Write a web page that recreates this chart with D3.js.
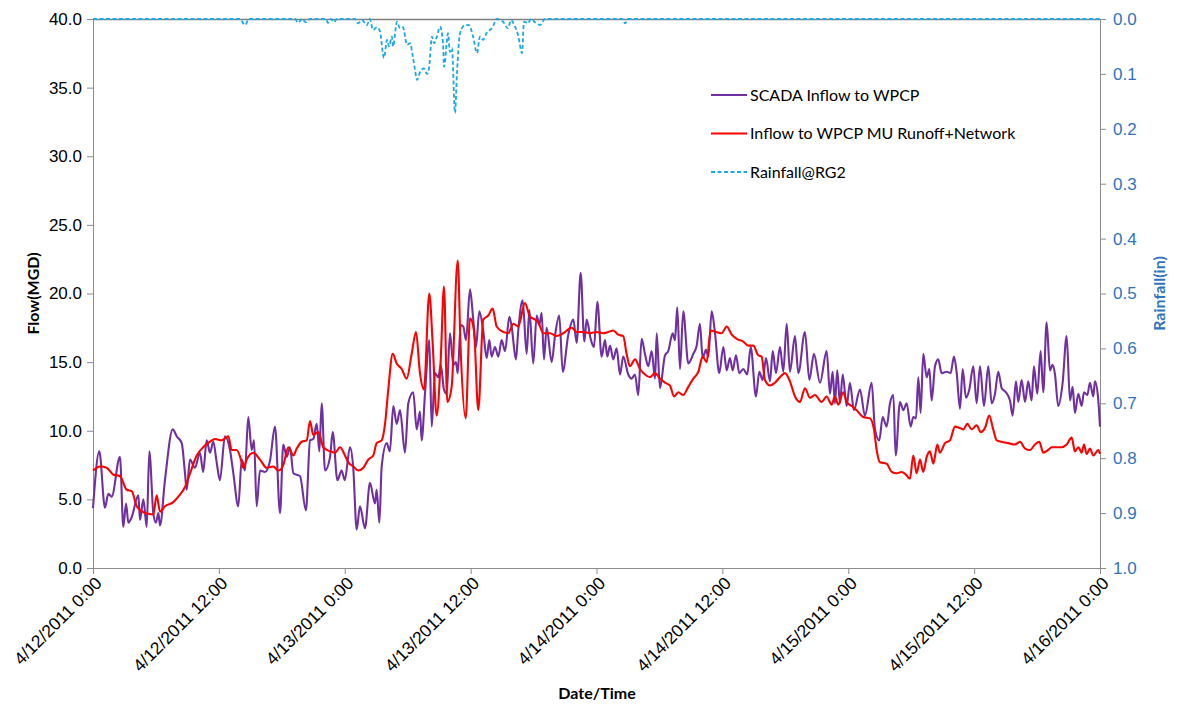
<!DOCTYPE html>
<html>
<head>
<meta charset="utf-8">
<script src="https://cdn.jsdelivr.net/npm/d3@7"></script>
<style>
  body { margin: 0; background: #fff; }
  svg { display: block; font-family: Lato, "Open Sans", sans-serif; }
  .axis path, .axis line { stroke: #8c8c8c; }
</style>
</head>
<body>
<svg id="chart" width="1177" height="707"></svg>
<script>
// hours after 4/12/2011 0:00, flow in MGD
var scadaInflow = [
  [0,4.35],[0.6,8.5],[1.14,4.4],[1.46,5.4],[1.78,5.2],[2.57,8.1],[2.89,3.0],[3.15,4.7],[3.37,3.3],[3.69,3.7],
  [4.32,5.3],[4.48,3.5],[4.8,5.0],[5.12,3.0],[5.37,8.5],[5.75,4.0],[6.0,3.3],[6.23,4.0],[6.39,3.1],[6.86,6.4],
  [7.6,10.1],[7.98,9.6],[8.46,9.1],[8.77,6.9],[8.93,5.7],[9.25,7.9],[9.72,7.3],[10.2,8.4],[10.5,7.0],[10.84,9.3],
  [11.15,8.4],[11.47,9.2],[11.79,7.7],[12.1,6.4],[12.58,9.6],[13.06,8.6],[13.38,6.9],[13.85,4.5],[14.18,7.9],[14.49,7.1],
  [14.8,11.0],[15.13,8.6],[15.35,9.3],[15.6,4.5],[15.92,7.1],[16.4,7.0],[16.87,7.8],[17.35,10.3],[17.83,4.0],[18.14,9.0],
  [18.47,8.1],[18.78,8.8],[19.1,6.9],[19.73,6.7],[20.3,4.2],[20.69,9.3],[21.0,9.4],[21.33,10.5],[21.58,8.5],[21.8,12.0],
  [22.12,7.1],[22.6,8.1],[22.85,9.9],[23.3,6.4],[23.7,7.1],[24.0,6.4],[24.5,8.8],[24.8,7.4],[25.14,2.8],[25.45,4.5],
  [25.93,2.9],[26.4,6.2],[26.88,4.7],[27.04,5.7],[27.3,3.3],[27.52,7.4],[28.0,9.1],[28.3,8.5],[28.63,11.8],[28.95,10.5],
  [29.27,11.5],[29.74,8.4],[30.06,12.0],[30.53,12.8],[30.86,10.1],[31.17,11.4],[31.33,9.3],[31.65,12.7],[32.06,16.6],[32.29,10.3],
  [32.6,14.2],[32.92,13.9],[33.15,14.8],[33.46,13.0],[33.72,12.7],[34.03,17.1],[34.35,14.8],[34.6,15.0],[34.77,14.2],[35.05,17.7],
  [35.3,17.6],[35.56,16.6],[35.94,20.3],[36.25,18.1],[36.51,16.1],[36.83,18.7],[37.2,17.3],[37.53,15.3],[37.78,16.6],[38.0,15.4],
  [38.32,16.1],[38.64,15.4],[38.96,16.6],[39.28,15.8],[39.69,18.3],[39.91,17.6],[40.32,15.2],[40.54,17.3],[40.96,19.5],[41.34,15.6],
  [41.6,18.8],[41.97,14.9],[42.3,18.4],[42.55,17.7],[42.77,18.6],[42.99,15.2],[43.25,17.5],[43.73,15.0],[44.04,16.9],[44.45,18.4],
  [44.78,14.3],[45.31,17.0],[45.79,18.1],[46.11,16.4],[46.49,21.5],[46.84,16.5],[47.06,18.1],[47.44,16.7],[47.76,16.1],[48.08,19.4],
  [48.49,15.4],[48.81,16.6],[49.03,15.4],[49.29,16.2],[49.6,15.2],[49.92,16.0],[50.24,14.1],[50.55,15.4],[51.03,14.1],[51.35,13.8],
  [51.67,14.1],[51.98,12.6],[52.3,16.7],[52.62,15.6],[52.94,14.7],[53.26,15.8],[53.58,13.8],[53.74,17.1],[54.05,13.1],[54.53,15.5],
  [54.84,15.8],[55.26,17.1],[55.48,16.6],[55.7,19.0],[55.96,14.5],[56.27,18.7],[56.75,14.9],[57.23,15.6],[57.55,16.2],[57.86,17.8],
  [58.12,15.3],[58.44,15.9],[58.66,15.4],[58.98,18.7],[59.3,17.1],[59.7,14.2],[60.09,16.1],[60.41,14.4],[60.72,15.3],[60.98,14.4],
  [61.3,15.5],[61.61,14.2],[61.99,14.5],[62.37,14.1],[62.7,16.1],[63.2,12.5],[63.52,14.3],[63.84,13.7],[64.16,15.3],[64.54,13.6],
  [64.8,15.8],[65.11,14.2],[65.49,16.1],[65.81,14.3],[66.13,17.8],[66.44,14.3],[66.92,16.9],[67.24,14.2],[67.87,17.2],[68.29,13.7],
  [68.73,15.6],[69.31,13.5],[69.94,15.8],[70.26,12.7],[70.51,14.3],[70.73,12.0],[70.95,14.4],[71.21,12.0],[71.47,14.1],[71.85,11.8],
  [72.16,13.5],[72.54,11.5],[73.12,13.0],[73.59,11.1],[74.23,13.5],[74.55,10.1],[74.96,9.3],[75.28,11.0],[75.66,10.3],[75.98,12.0],
  [76.3,12.6],[76.52,8.2],[76.93,12.1],[77.25,11.5],[77.57,12.0],[77.95,10.3],[78.2,11.0],[78.46,10.9],[78.68,13.9],[78.9,11.3],
  [79.15,15.6],[79.48,13.9],[79.73,14.5],[79.95,12.2],[80.27,14.7],[80.58,15.2],[80.9,14.2],[81.38,14.3],[81.76,14.2],[82.08,15.4],
  [82.34,14.2],[82.65,11.6],[82.91,14.5],[83.22,12.4],[83.54,13.0],[83.92,14.7],[84.24,12.0],[84.56,14.7],[84.94,11.8],[85.35,14.7],
  [85.67,12.0],[85.99,12.7],[86.3,14.3],[86.63,13.1],[87.04,12.8],[87.42,12.2],[87.67,11.1],[87.99,13.6],[88.21,12.1],[88.53,13.7],
  [88.85,12.1],[89.16,13.6],[89.48,12.2],[89.7,14.7],[90.02,12.7],[90.34,15.8],[90.59,12.8],[90.91,17.9],[91.23,14.4],[91.48,14.8],
  [91.71,14.1],[92.02,11.8],[92.44,13.5],[92.82,16.9],[93.14,12.2],[93.39,13.2],[93.61,11.3],[93.93,12.7],[94.25,11.8],[94.47,12.8],
  [94.79,12.6],[95.04,13.5],[95.36,12.5],[95.52,13.6],[95.84,12.2],[96.0,10.3]
];

var modelInflow = [
  [0,7.1],[0.67,7.4],[1.3,7.3],[1.94,6.8],[2.57,6.7],[3.21,5.7],[3.69,5.6],[4.17,4.5],[4.96,4.0],[5.75,3.9],
  [6.07,5.3],[6.39,4.1],[6.86,4.5],[7.66,4.8],[8.13,5.2],[8.77,5.9],[9.25,6.9],[9.89,8.2],[10.51,8.8],[11.15,9.2],
  [11.63,9.4],[12.27,9.3],[12.9,9.6],[13.22,8.6],[13.7,8.6],[14.18,7.7],[14.33,7.3],[14.65,7.9],[15.28,8.4],[15.92,7.9],
  [16.56,7.3],[17.19,7.4],[17.67,7.1],[18.14,7.5],[18.62,8.8],[19.1,8.2],[19.42,8.7],[19.9,9.2],[20.37,9.3],[20.69,10.7],
  [21.0,9.7],[21.48,9.9],[21.95,8.8],[22.59,8.5],[23.07,8.4],[23.55,8.8],[24.02,8.2],[24.34,7.7],[24.82,7.4],[25.29,7.1],
  [25.77,7.3],[26.24,7.9],[26.72,8.2],[27.04,9.1],[27.52,9.3],[27.84,10.5],[28.15,13.0],[28.57,15.6],[28.95,14.9],[29.43,14.5],
  [29.9,13.8],[30.38,15.6],[30.79,17.2],[31.17,14.2],[31.55,13.0],[32.06,20.0],[32.38,16.4],[32.76,11.1],[33.15,15.2],[33.46,20.5],
  [33.78,12.1],[34.19,13.2],[34.77,22.4],[35.05,15.9],[35.53,10.9],[35.94,18.2],[36.32,17.3],[36.73,11.5],[37.2,18.1],[37.68,18.4],
  [38.1,18.9],[38.48,17.6],[39.11,17.2],[39.59,17.1],[40.07,17.8],[40.54,17.6],[41.18,19.3],[41.66,18.3],[42.14,18.1],[42.45,17.9],
  [42.93,17.1],[43.57,17.1],[44.2,16.9],[44.83,17.1],[45.63,17.5],[46.11,17.2],[46.74,17.2],[47.38,17.1],[48.02,17.2],[48.65,17.1],
  [49.12,17.2],[49.6,17.3],[50.08,17.0],[50.55,16.9],[50.87,15.6],[51.19,14.7],[51.67,15.2],[52.15,14.5],[52.62,14.1],[53.1,13.9],
  [53.58,14.2],[54.05,13.8],[54.53,13.5],[55.0,13.3],[55.39,12.5],[55.8,12.8],[56.27,12.6],[56.75,13.2],[57.23,13.8],[57.71,14.3],
  [58.12,15.4],[58.5,15.0],[58.88,17.3],[59.39,17.2],[59.93,17.1],[60.41,17.6],[60.89,17.0],[61.36,16.7],[61.99,16.5],[62.47,16.2],
  [62.95,16.2],[63.42,15.5],[63.74,15.4],[64.06,13.7],[64.54,13.3],[65.01,13.5],[65.49,13.9],[65.97,14.2],[66.44,13.6],[66.92,12.5],
  [67.4,12.1],[67.87,13.1],[68.35,12.4],[68.83,12.6],[69.46,12.1],[69.94,12.5],[70.42,11.9],[70.73,12.5],[71.05,11.9],[71.53,12.8],
  [71.85,12.1],[72.33,11.8],[72.8,11.5],[73.43,11.0],[74.07,10.9],[74.45,10.1],[74.71,8.6],[75.02,7.7],[75.66,7.6],[76.14,7.0],
  [76.62,6.9],[77.09,7.0],[77.5,6.8],[77.88,6.5],[78.2,8.2],[78.52,6.9],[78.84,7.9],[79.15,7.0],[79.48,8.1],[79.79,8.5],
  [80.11,7.6],[80.49,9.0],[80.74,8.4],[81.22,9.1],[81.7,9.3],[82.17,10.3],[82.65,10.2],[82.97,10.1],[83.35,10.5],[83.76,10.1],
  [84.24,10.4],[84.62,9.9],[85.03,10.2],[85.44,11.1],[85.82,10.1],[86.15,9.3],[86.63,9.2],[87.26,9.1],[87.89,9.0],[88.37,9.2],
  [88.85,8.7],[89.32,8.6],[89.8,9.0],[90.21,9.2],[90.59,8.4],[91.07,8.6],[91.39,8.8],[91.87,8.8],[92.34,8.8],[92.82,9.0],
  [93.3,9.5],[93.61,8.5],[93.93,8.8],[94.25,8.4],[94.47,9.0],[94.73,8.3],[95.04,8.7],[95.36,8.2],[95.84,8.6],[96.0,8.3]
];

// hours, inches
var rainfallRG2 = [
  [0,0],[14.0,0],[14.49,0.011],[14.87,0],[19.26,0],[19.54,0.007],[19.92,0],[20.3,0.006],[20.69,0],
  [22.2,0],[22.4,0.007],[22.69,0],[22.97,0.006],[23.26,0],[24.98,0],[25.26,0.008],[25.64,0.002],[26.12,0.011],
  [26.4,0],[26.69,0.02],[27.07,0.015],[27.36,0.023],[27.74,0.071],[28.03,0.038],[28.22,0.05],[28.5,0.032],
  [28.6,0.05],[28.98,0.005],[29.27,0.017],[29.55,0.015],[29.93,0.047],[30.22,0.044],[30.51,0.071],[30.7,0.093],
  [30.89,0.111],[31.17,0.097],[31.55,0.09],[31.84,0.1],[32.03,0.09],[32.32,0.032],[32.51,0.044],[32.79,0.032],
  [33.08,0.014],[33.37,0.044],[33.46,0.087],[33.75,0.038],[33.84,0.026],[34.03,0.06],[34.22,0.053],[34.51,0.171],
  [34.7,0.098],[34.99,0.026],[35.46,0.011],[35.84,0.011],[36.23,0.032],[36.61,0.062],[36.89,0.032],[37.18,0.038],
  [37.56,0.024],[38.04,0.017],[38.51,0],[39.09,0.005],[39.56,0.017],[39.85,0.002],[40.23,0.014],[40.52,0.029],
  [40.9,0.062],[41.09,0.005],[41.47,0.008],[41.75,0],[42.14,0.006],[42.61,0.011],[43.09,0],[50.43,0],[50.72,0.008],
  [51.0,0],[96,0]
];

var flowTicks = [0, 5, 10, 15, 20, 25, 30, 35, 40];
var rainTicks = [0, 0.1, 0.2, 0.3, 0.4, 0.5, 0.6, 0.7, 0.8, 0.9, 1.0];
var seriesNames = ["SCADA Inflow to WPCP", "Inflow to WPCP MU Runoff+Network", "Rainfall@RG2"];
var seriesColors = ["#7030a0", "#ff0000", "#1aa9e2"];

var start = new Date(2011, 3, 12, 0, 0);
var end = new Date(2011, 3, 16, 0, 0);
function toDate(h) { return new Date(start.getTime() + h * 3600000); }

var svg = d3.select("#chart");
var margin = {top: 19, right: 77, bottom: 139, left: 93};
var width = 1177 - margin.left - margin.right,
    height = 707 - margin.top - margin.bottom;

var x = d3.scaleTime().domain([start, end]).range([margin.left, margin.left + width]);
var yFlow = d3.scaleLinear().domain([0, 40]).range([margin.top + height, margin.top]);
var yRain = d3.scaleLinear().domain([0, 1]).range([margin.top, margin.top + height]);

// top border of plot area
svg.append("line")
    .attr("x1", margin.left).attr("x2", margin.left + width)
    .attr("y1", margin.top + 0.5).attr("y2", margin.top + 0.5)
    .attr("stroke", "#7f7f7f").attr("stroke-width", 1.5);

var leftAxis = svg.append("g")
    .attr("class", "axis")
    .attr("transform", "translate(" + margin.left + ",0)")
    .call(d3.axisLeft(yFlow).tickValues(flowTicks).tickFormat(d3.format(".1f")).tickSize(6).tickSizeOuter(0));
leftAxis.selectAll("text").style("font-size", "17px").attr("fill", "#000").attr("x", -11);

var rightAxis = svg.append("g")
    .attr("class", "axis")
    .attr("transform", "translate(" + (margin.left + width) + ",0)")
    .call(d3.axisRight(yRain).tickValues(rainTicks).tickFormat(d3.format(".1f")).tickSize(6).tickSizeOuter(0));
rightAxis.selectAll("text").style("font-size", "17px").attr("fill", "#2e74c0").attr("x", 13);

var bottomAxis = svg.append("g")
    .attr("class", "axis")
    .attr("transform", "translate(0," + (margin.top + height) + ")")
    .call(d3.axisBottom(x).ticks(d3.timeHour.every(12)).tickFormat(d3.timeFormat("%-m/%-d/%Y %-H:%M")).tickSize(6).tickSizeOuter(0));
bottomAxis.selectAll("text")
    .style("font-size", "17.5px")
    .attr("fill", "#000")
    .style("text-anchor", "end")
    .attr("x", 0).attr("y", 0).attr("dy", "0.35em")
    .attr("transform", "translate(5,12) rotate(-45)");

// lines
var flowLine = d3.line()
    .curve(d3.curveMonotoneX)
    .x(function(d) { return x(toDate(d[0])); })
    .y(function(d) { return yFlow(d[1]); });
var rainLine = d3.line()
    .curve(d3.curveMonotoneX)
    .x(function(d) { return x(toDate(d[0])); })
    .y(function(d) { return yRain(d[1]); });

svg.append("path").datum(rainfallRG2)
    .attr("d", rainLine)
    .attr("fill", "none")
    .attr("stroke", seriesColors[2])
    .attr("stroke-width", 1.8)
    .attr("stroke-dasharray", "4,2.5");

svg.append("path").datum(scadaInflow)
    .attr("d", flowLine)
    .attr("fill", "none")
    .attr("stroke", seriesColors[0])
    .attr("stroke-width", 2.1)
    .attr("stroke-linejoin", "round");

svg.append("path").datum(modelInflow)
    .attr("d", flowLine)
    .attr("fill", "none")
    .attr("stroke", seriesColors[1])
    .attr("stroke-width", 2.1)
    .attr("stroke-linejoin", "round");

// axis titles
svg.append("text")
    .attr("transform", "translate(39," + (margin.top + height / 2) + ") rotate(-90)")
    .attr("text-anchor", "middle")
    .style("font-size", "16px").style("font-weight", "bold")
    .text("Flow(MGD)");

svg.append("text")
    .attr("transform", "translate(1165," + (margin.top + height / 2) + ") rotate(-90)")
    .attr("text-anchor", "middle")
    .attr("fill", "#2e74c0")
    .style("font-size", "16px").style("font-weight", "bold")
    .text("Rainfall(in)");

svg.append("text")
    .attr("x", 597).attr("y", 699)
    .attr("text-anchor", "middle")
    .style("font-size", "16px").style("font-weight", "bold")
    .text("Date/Time");

// legend
var legend = svg.selectAll(".legend")
    .data(seriesNames)
    .enter().append("g")
    .attr("class", "legend")
    .attr("transform", function(d, i) { return "translate(711," + (95 + i * 38.5) + ")"; });

legend.append("line")
    .attr("x1", 0).attr("x2", 36)
    .attr("stroke", function(d, i) { return seriesColors[i]; })
    .attr("stroke-width", 2)
    .attr("stroke-dasharray", function(d, i) { return i == 2 ? "4,2.5" : null; });

legend.append("text")
    .attr("x", 39).attr("dy", "0.35em")
    .style("font-size", "16px")
    .text(function(d) { return d; });
</script>
</body>
</html>
